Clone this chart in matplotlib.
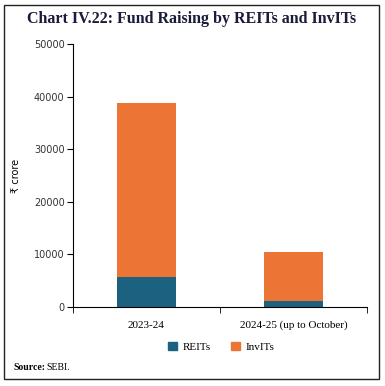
import matplotlib
matplotlib.use("Agg")
import matplotlib.pyplot as plt
from matplotlib.patches import Rectangle, Patch

categories = ["2023-24", "2024-25 (up to October)"]
reits = [5760, 1200]
invits = [33080, 9310]
yticks = [0, 10000, 20000, 30000, 40000, 50000]

c_reit = "#1c6180"
c_invit = "#ec7536"
serif = ["Liberation Serif", "DejaVu Serif"]

L, R, T, B = 73, 367, 44, 307
fig = plt.figure(figsize=(3.85, 3.86), dpi=100)
ax = fig.add_axes([L/385, 1-B/386, (R-L)/385, (B-T)/386])

x = list(range(len(categories)))
ax.bar(x, reits, width=0.40, color=c_reit, label="REITs")
ax.bar(x, invits, width=0.40, bottom=reits, color=c_invit, label="InvITs")

ax.set_xlim(-0.5, 1.5)
ax.set_ylim(0, 50000)
ax.set_yticks(yticks)
ax.set_yticklabels([str(v) for v in yticks], fontsize=7, color="#333333")
ax.set_xticks(x)
ax.set_xticklabels(categories, fontsize=8, family=serif)
ax.tick_params(axis="x", length=0, pad=10)
ax.set_xticks([-0.5, 0.5, 1.5], minor=True)
ax.tick_params(axis="x", which="minor", length=4, direction="out")
ax.tick_params(axis="y", length=4, pad=2)
for s in ["top", "right"]:
    ax.spines[s].set_visible(False)
ax.set_ylabel("₹ crore", fontsize=7)
ax.yaxis.set_label_coords((21-L)/(R-L), 0.5)

fig.legend(handles=[Patch(color=c_reit, label="REITs"), Patch(color=c_invit, label="InvITs")],
           loc="center", bbox_to_anchor=(221/385, 1-347/386), ncol=2, frameon=False,
           prop={"family": serif, "size": 8}, handlelength=0.8, handleheight=0.8,
           columnspacing=1.8, handletextpad=0.5)

fig.text(192/385, 1-19/386, "Chart IV.22: Fund Raising by REITs and InvITs",
         ha="center", va="center", fontsize=11.5, fontweight="bold", family=serif, color="#1a1a3a")
fig.text(13/385, 1-367/386, "Source:", ha="left", va="center", fontsize=7,
         fontweight="bold", family=serif)
fig.text(46/385, 1-367/386, "SEBI.", ha="left", va="center", fontsize=7, family=serif)

fig.patches.append(Rectangle((4/385, 1-379/386), (379-4)/385, (379-5)/386,
                             transform=fig.transFigure, fill=False, edgecolor="#222222", linewidth=1.0))

fig.savefig("out.png", dpi=100)
